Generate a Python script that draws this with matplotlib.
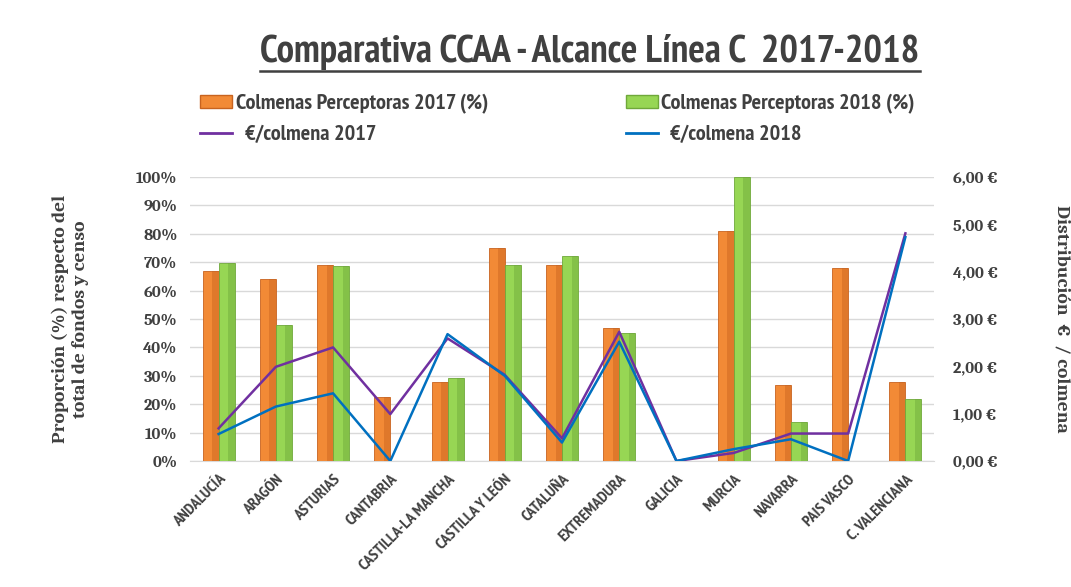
import numpy as np
import matplotlib
matplotlib.use("Agg")
import matplotlib.pyplot as plt
from matplotlib.patches import Patch
from matplotlib.lines import Line2D
import logging
logging.getLogger("matplotlib.font_manager").setLevel(logging.ERROR)

# datos
ccaa = ["ANDALUCÍA", "ARAGÓN", "ASTURIAS", "CANTABRIA", "CASTILLA-LA MANCHA",
        "CASTILLA Y LEÓN", "CATALUÑA", "EXTREMADURA", "GALICIA", "MURCIA",
        "NAVARRA", "PAIS VASCO", "C. VALENCIANA"]
perc_2017 = [66.9, 64.1, 68.9, 22.6, 27.7, 74.9, 68.9, 46.8, 0, 81.0, 26.6, 68.1, 27.7]
perc_2018 = [69.6, 48.0, 68.7, 0, 29.1, 68.9, 72.3, 45.0, 0, 100.0, 13.6, 0, 21.7]
eur_2017 = [0.69, 1.99, 2.40, 0.99, 2.59, 1.82, 0.48, 2.73, 0, 0.17, 0.58, 0.58, 4.81]
eur_2018 = [0.57, 1.15, 1.43, 0, 2.68, 1.80, 0.39, 2.52, 0, 0.25, 0.46, 0, 4.73]

narrow = ["PT Sans Narrow", "Roboto Condensed", "Barlow Condensed", "DejaVu Sans"]
serif = ["Caladea", "Liberation Serif", "DejaVu Serif"]
txt = "#404040"

col17, col17d = "#f28a36", "#c8631f"
col18, col18d = "#97d654", "#6fa83a"
lin17, lin18 = "#7030a0", "#0070c0"

fig = plt.figure(figsize=(10.71, 5.87), dpi=100)
ax = fig.add_axes([190 / 1071, 1 - 461 / 587, (934 - 190) / 1071, (461 - 177) / 587])
ax2 = ax.twinx()

x = np.arange(len(ccaa))
w = 0.28
v17 = np.array(perc_2017) / 100
v18 = np.array(perc_2018) / 100

# barras con algo de sombreado tipo 3D
ax.bar(x - w / 2, v17, w, color=col17, edgecolor=col17d, linewidth=0.6, zorder=3)
ax.bar(x - w / 2 + w * 0.3, v17, w * 0.4, color=col17d, alpha=0.45, linewidth=0, zorder=3)
ax.bar(x + w / 2, v18, w, color=col18, edgecolor=col18d, linewidth=0.6, zorder=3)
ax.bar(x + w / 2 + w * 0.3, v18, w * 0.4, color=col18d, alpha=0.45, linewidth=0, zorder=3)

ax2.plot(x, eur_2017, color=lin17, lw=1.8, zorder=4)
ax2.plot(x, eur_2018, color=lin18, lw=1.8, zorder=5)

ax.set_xlim(-0.5, len(ccaa) - 0.5)
ax.set_ylim(0, 1)
ax2.set_ylim(0, 6)
ax.set_yticks(np.arange(0, 1.01, 0.1))
ax.set_yticklabels([f"{int(round(t * 100))}%" for t in np.arange(0, 1.01, 0.1)],
                   family=serif, fontweight="bold", fontsize=12, color=txt)
ax2.set_yticks(np.arange(0, 7, 1))
ax2.set_yticklabels([f"{t},00 €" for t in range(7)],
                    family=serif, fontweight="bold", fontsize=12, color=txt)
ax.grid(axis="y", color="#d9d9d9", lw=1, zorder=0)
ax.set_axisbelow(True)

ax.set_xticks(x)
ax.set_xticklabels(ccaa, rotation=45, ha="right", rotation_mode="anchor",
                   family=narrow, fontweight="bold", style="italic",
                   fontsize=11.5, color=txt)
for a in (ax, ax2):
    for s in a.spines.values():
        s.set_visible(False)
    a.tick_params(length=0)
ax.spines["bottom"].set_visible(True)
ax.spines["bottom"].set_color("#d9d9d9")
ax.tick_params(axis="x", pad=8)
ax.tick_params(axis="y", pad=9)
ax2.tick_params(axis="y", pad=14)

ax.set_ylabel("Proporción (%) respecto del\ntotal de fondos y censo", family=serif,
              fontweight="bold", fontsize=14, color=txt, labelpad=34,
              linespacing=1.25)
ax2.set_ylabel("Distribución  €  / colmena", family=serif, fontweight="bold",
               fontsize=14, color=txt, rotation=-90, labelpad=52)

# titulo subrayado
t = fig.text(590 / 1071, 1 - 52 / 587, "Comparativa CCAA - Alcance Línea C  2017-2018",
             ha="center", va="center", family=narrow, fontweight="bold",
             fontsize=28, color=txt)
fig.canvas.draw()
bb = t.get_window_extent().transformed(fig.transFigure.inverted())
fig.add_artist(Line2D([bb.x0, bb.x1], [bb.y0 - 0.002, bb.y0 - 0.002],
                      transform=fig.transFigure, color=txt, lw=1.8))

handles = [Patch(facecolor=col17, edgecolor=col17d),
           Line2D([], [], color=lin17, lw=2),
           Patch(facecolor=col18, edgecolor=col18d),
           Line2D([], [], color=lin18, lw=2)]
labels = ["Colmenas Perceptoras 2017 (%)", "  €/colmena 2017",
          "Colmenas Perceptoras 2018 (%)", "  €/colmena 2018"]
leg = fig.legend(handles, labels, ncol=2, loc="upper left",
                 bbox_to_anchor=(180 / 1071, 1 - 74 / 587), frameon=False,
                 prop={"family": narrow, "weight": "bold", "size": 16},
                 labelcolor=txt, columnspacing=6.2, handlelength=1.45,
                 handleheight=0.5, handletextpad=0.15, labelspacing=0.5)

fig.savefig("out.png", dpi=100, facecolor="white")
